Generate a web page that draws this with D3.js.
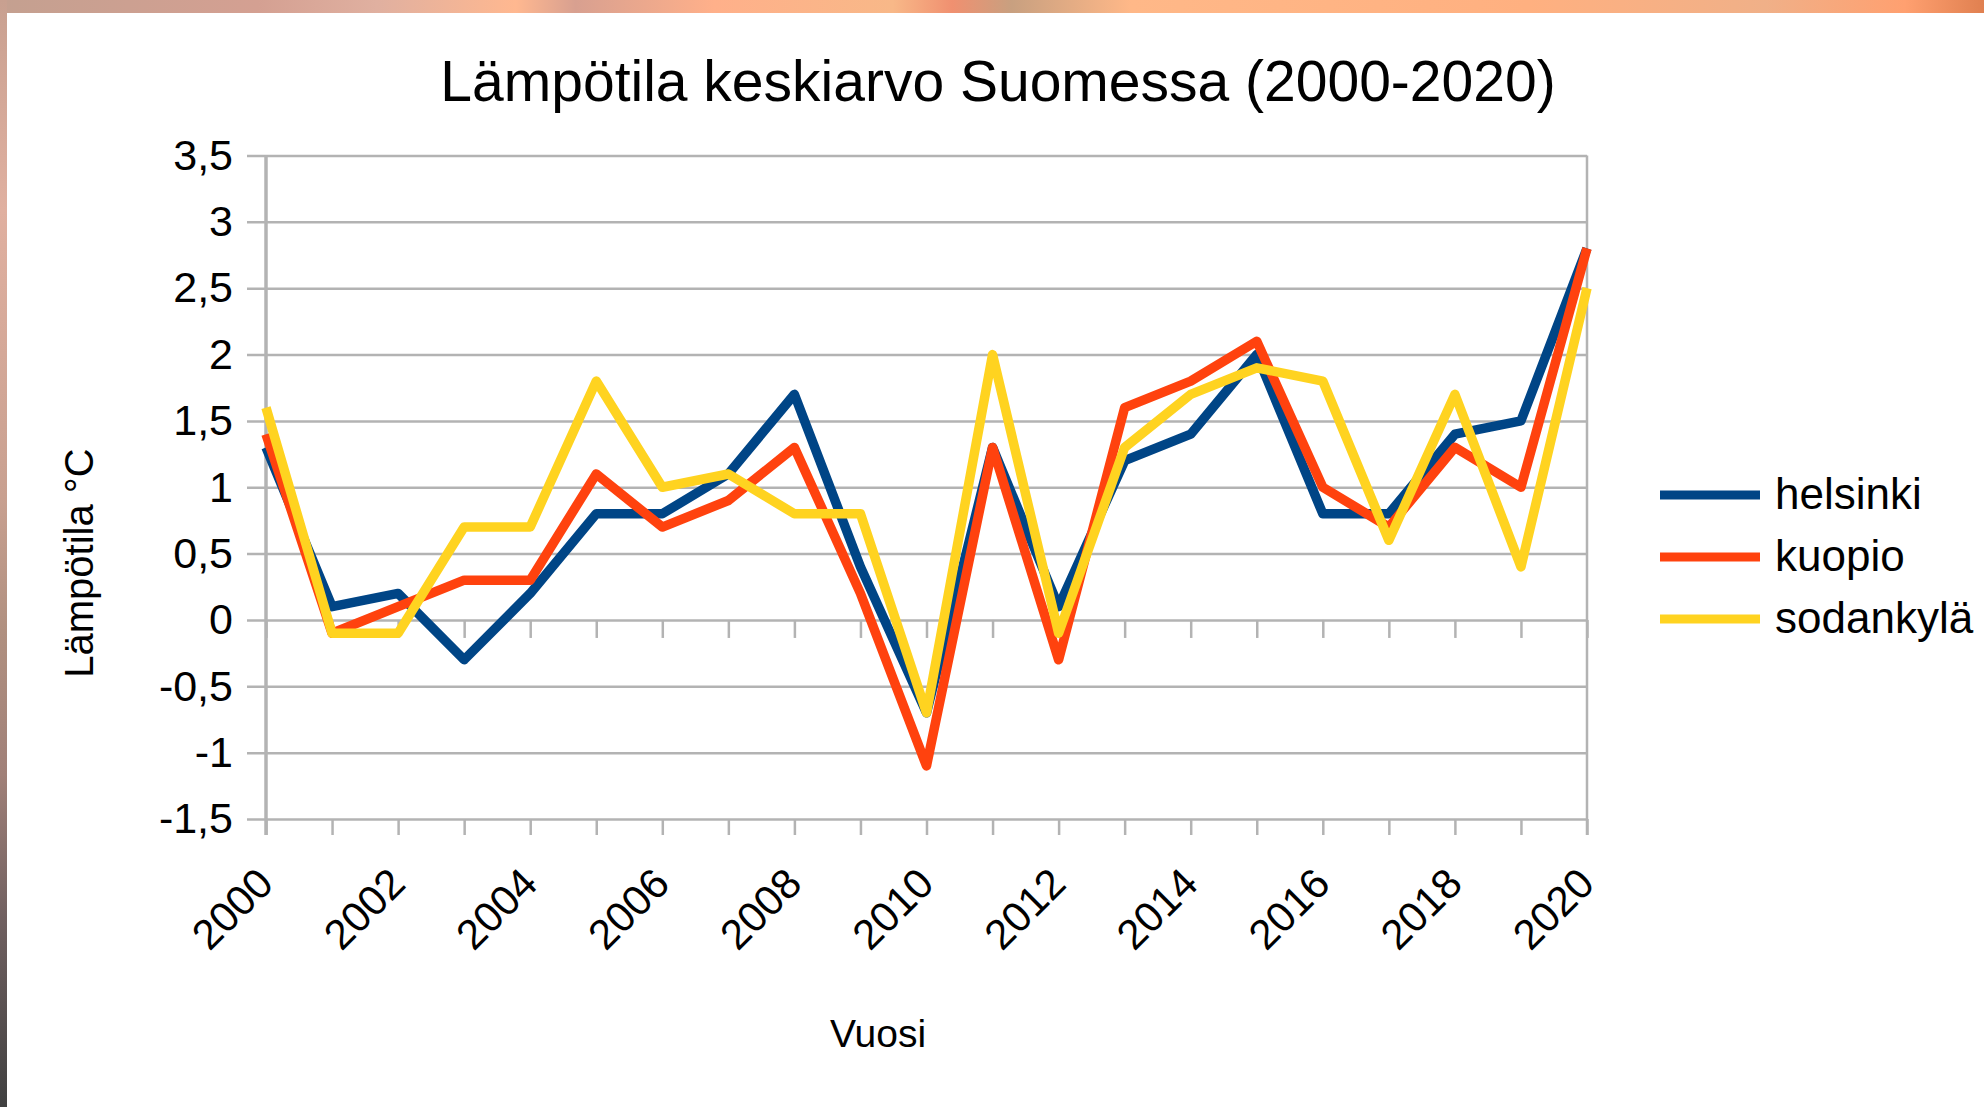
<!DOCTYPE html>
<html>
<head>
<meta charset="utf-8">
<script src="https://cdn.jsdelivr.net/npm/d3@7"></script>
<style>
  html, body { margin: 0; padding: 0; background: #fff; }
  svg { display: block; font-family: "Liberation Sans", Arial, sans-serif; }
</style>
</head>
<body>
<svg id="chart" width="1984" height="1107"></svg>
<script>
// chart data
const years     = [2000, 2001, 2002, 2003, 2004, 2005, 2006, 2007, 2008, 2009, 2010,
                   2011, 2012, 2013, 2014, 2015, 2016, 2017, 2018, 2019, 2020];
const helsinki  = [1.3, 0.1, 0.2, -0.3, 0.2, 0.8, 0.8, 1.1, 1.7, 0.4, -0.7,
                   1.3, 0.1, 1.2, 1.4, 2.0, 0.8, 0.8, 1.4, 1.5, 2.8];
const kuopio    = [1.4, -0.1, 0.1, 0.3, 0.3, 1.1, 0.7, 0.9, 1.3, 0.2, -1.1,
                   1.3, -0.3, 1.6, 1.8, 2.1, 1.0, 0.7, 1.3, 1.0, 2.8];
const sodankyla = [1.6, -0.1, -0.1, 0.7, 0.7, 1.8, 1.0, 1.1, 0.8, 0.8, -0.7,
                   2.0, -0.1, 1.3, 1.7, 1.9, 1.8, 0.6, 1.7, 0.4, 2.5];
const seriesNames = ['helsinki', 'kuopio', 'sodankylä'];
const yTicks    = [-1.5, -1, -0.5, 0, 0.5, 1, 1.5, 2, 2.5, 3, 3.5];
const xLabels   = [2000, 2002, 2004, 2006, 2008, 2010, 2012, 2014, 2016, 2018, 2020];

const COLORS = ['#004586', '#ff420e', '#ffd320'];
const GRID = '#b3b3b3';

(function () {
  const svg = d3.select('#chart');
  const defs = svg.append('defs');

  // ── Blurred photo edge behind the white panel ─────────
  const topGrad = defs.append('linearGradient').attr('id', 'topg');
  [[0, '#c4a090'], [0.13, '#d4a092'], [0.19, '#e0b0a0'], [0.26, '#ffb890'], [0.29, '#d8a090'],
   [0.36, '#ffb08a'], [0.45, '#f8b888'], [0.48, '#f09070'], [0.51, '#c8a080'], [0.57, '#ffb888'],
   [0.77, '#ffb080'], [0.89, '#f0b088'], [0.96, '#ffa070'], [1, '#e08050']]
    .forEach(([o, c]) => topGrad.append('stop').attr('offset', o).attr('stop-color', c));
  const leftGrad = defs.append('linearGradient').attr('id', 'leftg')
    .attr('x1', 0).attr('y1', 0).attr('x2', 0).attr('y2', 1);
  [[0, '#c8a090'], [0.19, '#e0b0a0'], [0.45, '#c8a090'], [0.57, '#b09080'],
   [0.7, '#a08078'], [0.83, '#706060'], [1, '#404040']]
    .forEach(([o, c]) => leftGrad.append('stop').attr('offset', o).attr('stop-color', c));

  svg.append('rect').attr('width', 1984).attr('height', 13).attr('fill', 'url(#topg)');
  svg.append('rect').attr('width', 7).attr('height', 1107).attr('fill', 'url(#leftg)');
  svg.append('rect').attr('x', 7).attr('y', 13).attr('width', 1977).attr('height', 1094).attr('fill', '#fff');

  // ── Scales ────────────────────────────────────────────
  const x0 = 266, x1 = 1587;
  const x = d3.scaleLinear().domain([years[0], years[years.length - 1]]).range([x0, x1]);
  const y = d3.scaleLinear().domain([-1.5, 3.5]).range([819, 155.5]);
  const fmt = d => String(d).replace('.', ',');

  // ── Grid + y labels (one axis drawn from the right edge) ──
  const gy = svg.append('g')
    .attr('transform', `translate(${x1},0)`)
    .call(d3.axisLeft(y).tickValues(yTicks).tickSize(x1 - x0 + 19).tickPadding(14).tickFormat(fmt));
  gy.select('.domain').remove();
  gy.selectAll('.tick line').attr('stroke', GRID).attr('stroke-width', 2.5);
  gy.selectAll('.tick text').attr('fill', '#000').attr('font-size', 43)
    .attr('font-family', '"Liberation Sans", Arial, sans-serif');

  // ticks on the zero line
  const gz = svg.append('g')
    .attr('transform', `translate(0,${y(0)})`)
    .call(d3.axisBottom(x).tickValues(years).tickSize(18).tickFormat(''));
  gz.select('.domain').remove();
  gz.selectAll('.tick line').attr('stroke', GRID).attr('stroke-width', 2.5);

  // bottom ticks + rotated year labels
  const gx = svg.append('g')
    .attr('transform', `translate(0,${y(-1.5)})`)
    .call(d3.axisBottom(x).tickValues(years).tickSize(16)
      .tickFormat(d => xLabels.includes(d) ? d : ''));
  gx.select('.domain').remove();
  gx.selectAll('.tick line').attr('stroke', GRID).attr('stroke-width', 2.5);
  gx.selectAll('.tick text')
    .attr('fill', '#000').attr('font-size', 42)
    .attr('font-family', '"Liberation Sans", Arial, sans-serif')
    .attr('text-anchor', 'end').attr('dy', 0).attr('y', 0)
    .attr('transform', 'translate(9,67) rotate(-45)');

  // axis frame lines
  svg.append('line').attr('x1', x0).attr('x2', x0).attr('y1', y(3.5)).attr('y2', y(-1.5) + 16)
    .attr('stroke', GRID).attr('stroke-width', 3.5);
  svg.append('line').attr('x1', x1).attr('x2', x1).attr('y1', y(3.5)).attr('y2', y(-1.5) + 16)
    .attr('stroke', GRID).attr('stroke-width', 2.5);

  // ── Series lines ──────────────────────────────────────
  const series = [helsinki, kuopio, sodankyla];
  const line = d3.line().x((d, i) => x(years[i])).y(d => y(d));
  svg.append('g').selectAll('path').data(series).join('path')
    .attr('d', line)
    .attr('fill', 'none')
    .attr('stroke', (d, i) => COLORS[i])
    .attr('stroke-width', 9.5)
    .attr('stroke-linejoin', 'round');

  // ── Titles ────────────────────────────────────────────
  svg.append('text').attr('x', 998).attr('y', 101).attr('text-anchor', 'middle')
    .attr('font-size', 57).text('Lämpötila keskiarvo Suomessa (2000-2020)');
  svg.append('text').attr('x', 878).attr('y', 1047).attr('text-anchor', 'middle')
    .attr('font-size', 39).text('Vuosi');
  svg.append('text').attr('transform', 'translate(93,563) rotate(-90)').attr('text-anchor', 'middle')
    .attr('font-size', 40).text('Lämpötila °C');

  // ── Legend ────────────────────────────────────────────
  const lg = svg.append('g').selectAll('g').data(seriesNames).join('g')
    .attr('transform', (d, i) => `translate(1660,${495 + i * 62})`);
  lg.append('line').attr('x1', 0).attr('x2', 100)
    .attr('stroke', (d, i) => COLORS[i]).attr('stroke-width', 9);
  lg.append('text').attr('x', 115).attr('y', 14).attr('font-size', 44).text(d => d);
})();
</script>
</body>
</html>
